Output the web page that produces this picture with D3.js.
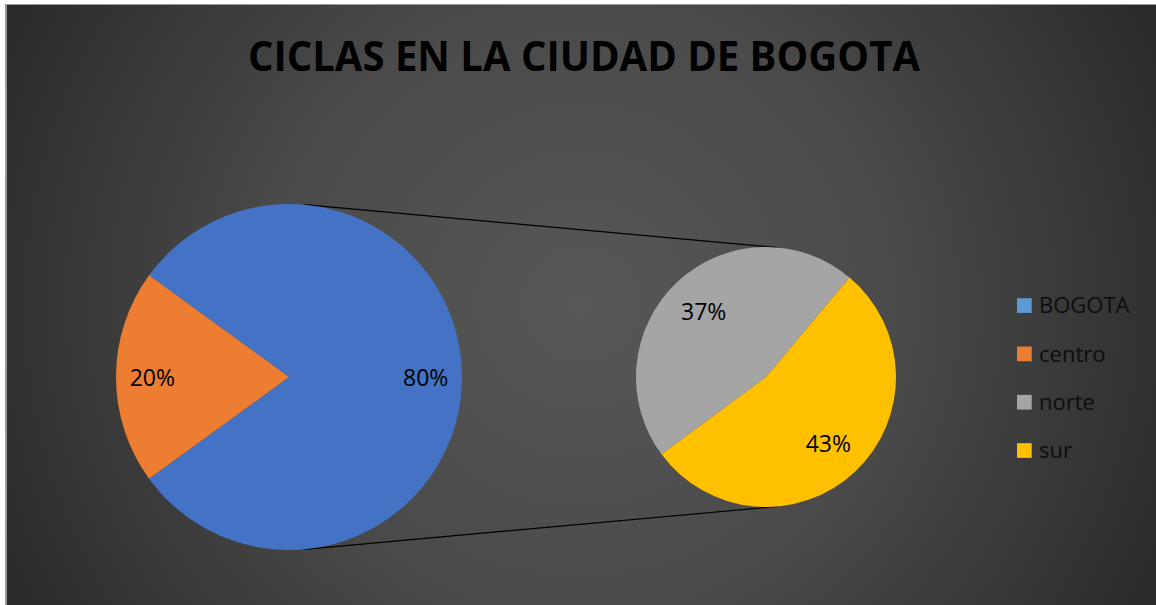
<!DOCTYPE html>
<html>
<head>
<meta charset="utf-8">
<script src="https://cdn.jsdelivr.net/npm/d3@7"></script>
<style>
  html, body { margin: 0; padding: 0; background: #ffffff; }
  svg { display: block; }
</style>
</head>
<body>
<div id="chart"></div>
<script>
// data
const mainLabels = ["BOGOTA", "centro"];
const mainValues = [80, 20];
const subLabels = ["norte", "sur"];
const subValues = [37, 43];
const legendLabels = ["BOGOTA", "centro", "norte", "sur"];
const title = "CICLAS EN LA CIUDAD DE BOGOTA";

const W = 1156, H = 605;
const sliceColor = { BOGOTA: "#4472C4", centro: "#ED7D31", norte: "#A5A5A5", sur: "#FFC000" };
const legendColor = { BOGOTA: "#5B9BD5", centro: "#ED7D31", norte: "#A5A5A5", sur: "#FFC000" };

const svg = d3.select("#chart").append("svg")
  .attr("width", W)
  .attr("height", H);

// background gradient
const defs = svg.append("defs");
const grad = defs.append("radialGradient")
  .attr("id", "bg")
  .attr("cx", "50%").attr("cy", "50%")
  .attr("r", "60%")
  .attr("gradientTransform", "translate(0.5,0.5) scale(1,1.9) translate(-0.5,-0.5)");
grad.append("stop").attr("offset", "0%").attr("stop-color", "#575757");
grad.append("stop").attr("offset", "45%").attr("stop-color", "#4a4a4a");
grad.append("stop").attr("offset", "100%").attr("stop-color", "#262626");

svg.append("rect")
  .attr("x", 5).attr("y", 4)
  .attr("width", W - 5).attr("height", H - 4)
  .attr("fill", "#9a9a9a");
svg.append("rect")
  .attr("x", 7).attr("y", 5)
  .attr("width", W - 7).attr("height", H - 5)
  .attr("fill", "url(#bg)");

// title
svg.append("text")
  .attr("x", 584)
  .attr("y", 71)
  .attr("text-anchor", "middle")
  .attr("textLength", 672)
  .attr("lengthAdjust", "spacingAndGlyphs")
  .style("font-family", "'Open Sans', sans-serif")
  .style("font-weight", "bold")
  .style("font-size", "42px")
  .style("fill", "#000")
  .text(title);

// geometry
const main = { cx: 289, cy: 377, r: 173 };
const sub = { cx: 766, cy: 377, r: 130 };
const deg = Math.PI / 180;

// connector lines (outer tangents)
const d = sub.cx - main.cx;
const phi = Math.asin((main.r - sub.r) / d);
[-1, 1].forEach(s => {
  const x1 = main.cx + main.r * Math.sin(phi);
  const y1 = main.cy + s * main.r * Math.cos(phi);
  const x2 = sub.cx + sub.r * Math.sin(phi);
  const y2 = sub.cy + s * sub.r * Math.cos(phi);
  svg.append("line")
    .attr("x1", x1).attr("y1", y1)
    .attr("x2", x2).attr("y2", y2)
    .attr("stroke", "#000")
    .attr("stroke-width", 1.2);
});

function drawPie(values, labels, geo, startDeg, labelRatio) {
  const pie = d3.pie().sort(null)
    .startAngle(startDeg * deg)
    .endAngle(startDeg * deg + 2 * Math.PI);
  const arcs = pie(values);
  const arc = d3.arc().innerRadius(0).outerRadius(geo.r);
  const labelArc = d3.arc().innerRadius(geo.r * labelRatio).outerRadius(geo.r * labelRatio);
  const g = svg.append("g").attr("transform", `translate(${geo.cx},${geo.cy})`);
  g.selectAll("path.slice")
    .data(arcs)
    .enter().append("path")
    .attr("class", "slice")
    .attr("d", arc)
    .attr("fill", (p, i) => sliceColor[labels[i]])
    .attr("stroke", "none");
  g.selectAll("text.lbl")
    .data(arcs)
    .enter().append("text")
    .attr("class", "lbl")
    .attr("transform", p => `translate(${labelArc.centroid(p)})`)
    .attr("text-anchor", "middle")
    .attr("dy", "0.4em")
    .style("font-family", "'Open Sans', sans-serif")
    .style("font-size", "23px")
    .style("fill", "#000")
    .text(p => p.value + "%");
}

drawPie(mainValues, mainLabels, main, -54, 0.79);
drawPie(subValues, subLabels, sub, -126.5, 0.7);

// legend
const legendY = d3.scalePoint()
  .domain(legendLabels)
  .range([305.5, 450.5]);
const leg = svg.append("g");
const items = leg.selectAll("g")
  .data(legendLabels)
  .enter().append("g")
  .attr("transform", l => `translate(1017,${legendY(l)})`);
items.append("rect")
  .attr("x", 0).attr("y", -7.3)
  .attr("width", 14.7).attr("height", 14.7)
  .attr("fill", l => legendColor[l]);
items.append("text")
  .attr("x", 22)
  .attr("dy", "0.36em")
  .style("font-family", "'Open Sans', sans-serif")
  .style("font-size", "22px")
  .style("fill", "#0d0d0d")
  .text(l => l);
</script>
</body>
</html>
